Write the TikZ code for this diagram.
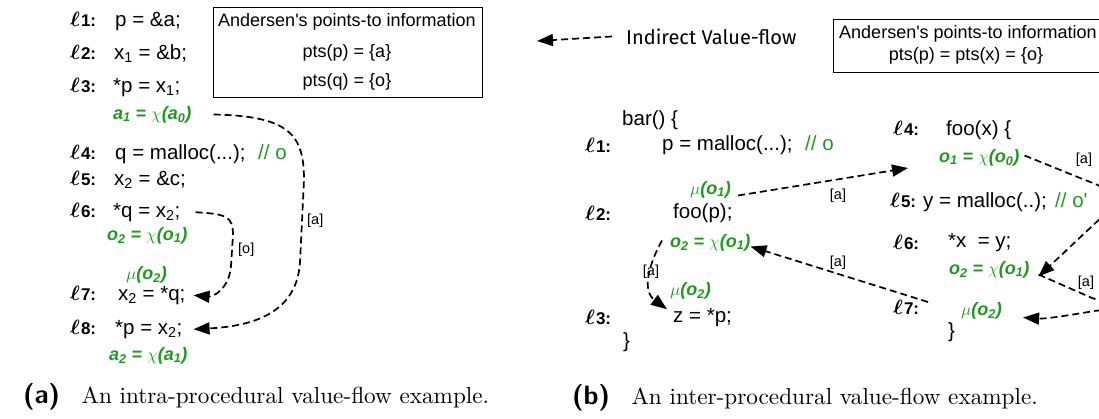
\documentclass[tikz,border=0pt]{standalone}
\usepackage{bm}
\usepackage{fontspec}
\usetikzlibrary{arrows.meta}
\newfontfamily\codefont[Ligatures=TeXOff]{Liberation Sans}
\newfontfamily\legendfont{Fira Sans}
\definecolor{vfgreen}{RGB}{30,155,30}
\newcommand{\mylbl}[1]{$\bm{\ell}$\hspace{1pt}{\codefont\bfseries\fontsize{17}{20}\selectfont #1:}}
\begin{document}
\begin{tikzpicture}[x=1pt,y=-1pt,
  code/.style={font=\codefont\fontsize{20.5}{24}\selectfont, anchor=mid west, inner sep=0pt},
  lab/.style={font=\fontsize{20}{24}\selectfont, anchor=mid west, inner sep=0pt},
  grn/.style={font=\codefont\bfseries\itshape\fontsize{18}{21}\selectfont, text=vfgreen, anchor=mid west, inner sep=0pt},
  cmt/.style={code, text=vfgreen},
  boxtxt/.style={font=\codefont\fontsize{18}{22}\selectfont, inner sep=0pt},
  ptsbox/.style={draw, line width=1.2pt, anchor=north west, inner sep=0pt},
  dashline/.style={line width=1.7pt, dash pattern=on 7pt off 4pt},
  flow/.style={dashline, -{Triangle[length=16pt,width=12pt]}},
  tag/.style={font=\codefont\fontsize{14.5}{17}\selectfont, inner sep=0pt},
  captxt/.style={font=\fontsize{10}{12}\selectfont, anchor=mid west, inner sep=0pt}
]
\useasboundingbox (0,0) rectangle (1099,418);

%% ---------------- (a) ----------------
\node[ptsbox, minimum width=269pt, minimum height=90pt] (boxA) at (213,7) {};
\node[boxtxt] (boxAt) at (347,22) {Andersen's points-to information};
\node[boxtxt] (boxAp) at (347,53) {pts(p) = \{a\}};
\node[boxtxt] (boxAq) at (347,82) {pts(q) = \{o\}};

\node[lab] (la1) at (70,24) {\mylbl{1}};
\node[code] (ca1) at (115,24) {p = \&a;};
\node[lab] (la2) at (70,57) {\mylbl{2}};
\node[code] (ca2) at (114,57) {x\textsubscript{1} = \&b;};
\node[lab] (la3) at (70,90) {\mylbl{3}};
\node[code] (ca3) at (113,90) {*p = x\textsubscript{1};};
\node[grn] (ga1) at (113,117) {a\textsubscript{1} = $\chi$(a\textsubscript{0})};
\node[lab] (la4) at (70,157) {\mylbl{4}};
\node[code] (ca4) at (115,157) {q = malloc(...);};
\node[cmt] (ma4) at (258,157) {// o};
\node[lab] (la5) at (70,183) {\mylbl{5}};
\node[code] (ca5) at (114,183) {x\textsubscript{2} = \&c;};
\node[lab] (la6) at (70,215) {\mylbl{6}};
\node[code] (ca6) at (113,215) {*q = x\textsubscript{2};};
\node[grn] (ga2) at (107,238) {o\textsubscript{2} = $\chi$(o\textsubscript{1})};
\node[grn] (ga3) at (126,277) {$\mu$(o\textsubscript{2})};
\node[lab] (la7) at (70,298) {\mylbl{7}};
\node[code] (ca7) at (118,298) {x\textsubscript{2} = *q;};
\node[lab] (la8) at (70,332) {\mylbl{8}};
\node[code] (ca8) at (115,332) {*p = x\textsubscript{2};};
\node[grn] (ga4) at (109,358) {a\textsubscript{2} = $\chi$(a\textsubscript{1})};

\draw[flow] ([xshift=22pt]ga1.east) .. controls (290,116) and (304,135) .. (304,180)
  -- (300,262) .. controls (297,312) and (255,326) .. ([xshift=11pt]ca8.east);
\node[tag, anchor=west] (ta1) at (307,221) {[a]};
\draw[flow] ([xshift=15pt]ca6.east) .. controls (226,214) and (233,216) .. (233,235)
  -- (231,266) .. controls (229,290) and (212,297) .. ([xshift=8pt]ca7.east);
\node[tag, anchor=west] (ta2) at (238,250) {[o]};

\node[captxt] (capA) at (23,401) {\scalebox{2.32}{{\sffamily\bfseries\fontsize{11.5}{13}\selectfont (a)}\hspace{9.3pt}An intra-procedural value-flow example.}};

%% ---------------- (b) ----------------
\coordinate (legTip) at (537,41);
\node[font=\legendfont\fontsize{20}{24}\selectfont, anchor=mid west, inner sep=0pt] (legT) at (626,42) {Indirect Value-flow};
\draw[dashline, -{Triangle[length=16pt,width=12pt]}] ([xshift=-14pt]legT.west) -- (legTip);

\node[ptsbox, minimum width=300pt, minimum height=53pt] (boxB) at (833,19) {};
\node[boxtxt] (boxBt) at (968,34) {Andersen's points-to information};
\node[boxtxt] (boxBp) at (966,56) {pts(p) = pts(x) = \{o\}};

\node[code] (bar) at (622,123) {bar() \{};
\node[lab] (lb1) at (585,150) {\mylbl{1}};
\node[code] (cb1) at (662,148) {p = malloc(...);};
\node[cmt] (mb1) at (805,148) {// o};
\node[grn] (mub1) at (690,192) {$\mu$(o\textsubscript{1})};
\node[lab] (lb2) at (585,218) {\mylbl{2}};
\node[code] (cb2) at (673,216) {foo(p);};
\node[grn] (gb2) at (670,245) {o\textsubscript{2} = $\chi$(o\textsubscript{1})};
\node[grn] (mub2) at (670,293) {$\mu$(o\textsubscript{2})};
\node[lab] (lb3) at (585,322) {\mylbl{3}};
\node[code] (cb3) at (673,320) {z = *p;};
\node[code] (barEnd) at (623,345) {\}};

\node[lab] (lb4) at (893,133) {\mylbl{4}};
\node[code] (foo) at (946,133) {foo(x) \{};
\node[grn] (gb4) at (939,160) {o\textsubscript{1} = $\chi$(o\textsubscript{0})};
\node[lab] (lb5) at (890,205) {\mylbl{5}};
\node[code] (cb5) at (923,205) {y = malloc(..);};
\node[cmt] (mb5) at (1055,205) {// o'};
\node[lab] (lb6) at (893,247) {\mylbl{6}};
\node[code] (cb6) at (948,245) {*x\ \ = y;};
\node[grn] (gb6) at (949,272) {o\textsubscript{2} = $\chi$(o\textsubscript{1})};
\node[lab] (lb7) at (893,312) {\mylbl{7}};
\node[grn] (mub7) at (961,313) {$\mu$(o\textsubscript{2})};
\node[code] (fooEnd) at (948,335) {\}};

\coordinate (callTip) at (908,168);
\coordinate (retStart) at (928,302);

\draw[flow] ([xshift=7pt,yshift=-6pt]mub1.east) -- (callTip);
\node[tag] (tb1) at (838,196) {[a]};
\draw[flow] ([xshift=5pt,yshift=2pt]gb4.east) -- (1085,180) .. controls (1118,192) and (1128,203) .. (1105,214)
  -- ([xshift=9pt,yshift=-7pt]gb6.east);
\node[tag] (tb2) at (1084,160) {[a]};
\draw[flow] ([xshift=9pt,yshift=-5pt]gb6.east) -- (1092,298) .. controls (1118,306) and (1112,309) .. (1094,311)
  .. controls (1065,316) and (1045,319) .. ([xshift=21pt,yshift=-7pt]mub7.east);
\node[tag] (tb3) at (1086,283) {[a]};
\draw[flow] (retStart) -- ([yshift=-4pt]gb2.east);
\node[tag] (tb4) at (838,263) {[a]};
\draw[flow] ([xshift=-8pt,yshift=2pt]gb2.west) .. controls (650,262) and (641,290) .. ([xshift=-6pt,yshift=8pt]cb3.west);
\node[tag] (tb5) at (651,272) {[a]};

\node[captxt] (capB) at (572,402) {\scalebox{2.32}{{\sffamily\bfseries\fontsize{11.5}{13}\selectfont (b)}\hspace{9.3pt}An inter-procedural value-flow example.}};
\end{tikzpicture}
\end{document}
